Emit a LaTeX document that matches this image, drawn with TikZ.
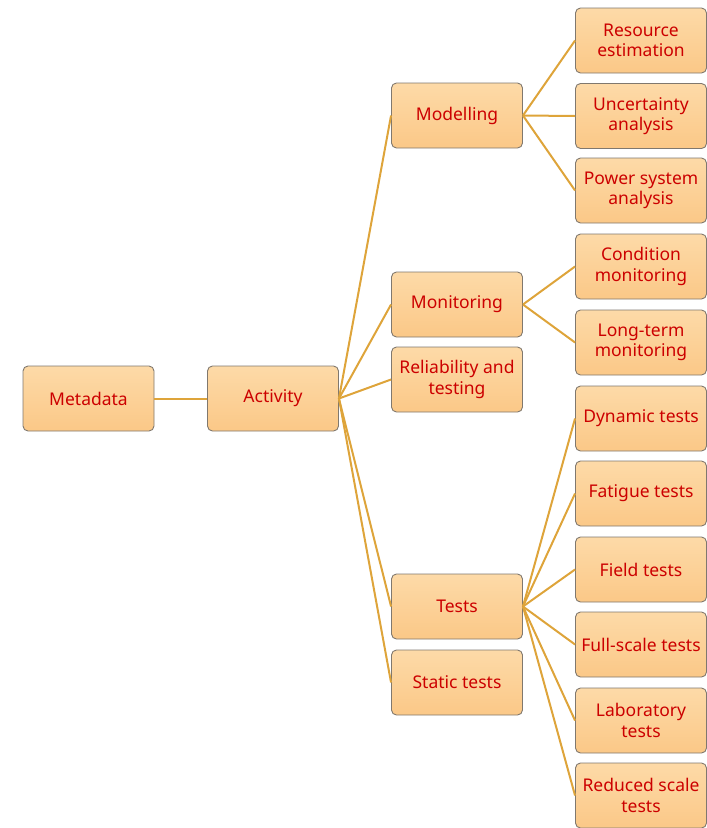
\documentclass[tikz,border=0pt]{standalone}
\usepackage{fontspec}
\setmainfont{Noto Sans}
\definecolor{boxtop}{RGB}{253,218,168}
\definecolor{boxbot}{RGB}{251,200,135}
\definecolor{boxline}{RGB}{128,120,110}
\definecolor{txtred}{RGB}{204,0,0}
\definecolor{linkcol}{RGB}{222,164,58}
\begin{document}
\begin{tikzpicture}[x=1pt,y=1pt,yscale=-1,xscale=1,
  box/.style={draw=boxline,line width=0.9pt,rounded corners=5pt,top color=boxtop,bottom color=boxbot,
    minimum width=131pt,minimum height=65pt,inner sep=1pt,align=center,text=txtred,
    font=\fontsize{17.5}{20.5}\selectfont},
  link/.style={draw=linkcol,line width=2pt}]
\useasboundingbox (0,0) rectangle (707,828);

% Root
\draw (88.5,398.5) node [box] (meta) {Metadata};
\draw (273,398.5) node [box] (act) {Activity};

% Second level
\draw (457,115.5) node [box] (model) {Modelling};
\draw (457,304.5) node [box] (monit) {Monitoring};
\draw (457,379.5) node [box] (relia) {Reliability and\\testing};
\draw (457,606.5) node [box] (tests) {Tests};
\draw (457,682.5) node [box] (stat) {Static tests};

% Third level
\draw (641,40.5) node [box] (resour) {Resource\\estimation};
\draw (641,116) node [box] (uncert) {Uncertainty\\analysis};
\draw (641,190.5) node [box] (power) {Power system\\analysis};
\draw (641,266.5) node [box] (cond) {Condition\\monitoring};
\draw (641,342.5) node [box] (longt) {Long-term\\monitoring};
\draw (641,418.5) node [box] (dyn) {Dynamic tests};
\draw (641,493.5) node [box] (fatig) {Fatigue tests};
\draw (641,569.5) node [box] (field) {Field tests};
\draw (641,644.5) node [box] (fulls) {Full-scale tests};
\draw (641,720.5) node [box] (labor) {Laboratory\\tests};
\draw (641,795.5) node [box] (reduc) {Reduced scale\\tests};

% Links
\draw [link] (meta.east) -- (act.west) ;
\foreach \n in {model,monit,relia,tests,stat}
  \draw [link] (act.east) -- (\n.west) ;
\foreach \n in {resour,uncert,power}
  \draw [link] (model.east) -- (\n.west) ;
\foreach \n in {cond,longt}
  \draw [link] (monit.east) -- (\n.west) ;
\foreach \n in {dyn,fatig,field,fulls,labor,reduc}
  \draw [link] (tests.east) -- (\n.west) ;
\end{tikzpicture}
\end{document}
